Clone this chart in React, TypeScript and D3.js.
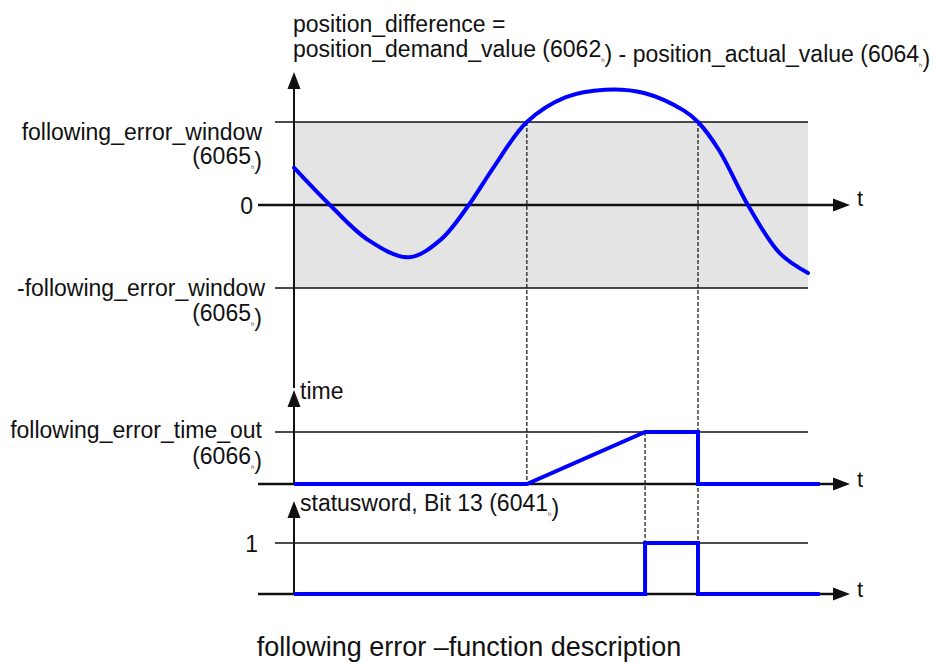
import React, { useRef, useEffect } from 'react';
import * as d3 from 'd3';

// position_difference curve, t in 0..100, value in units of following_error_window
const curveT = [0, 7, 14.4, 22.3, 28.5, 34, 38.9, 45.3, 52.9, 60.5, 68.1, 75.8, 78.6, 82.7, 88.3, 94.5, 100];
const curveV = [0.45, 0, -0.42, -0.63, -0.42, 0, 0.46, 1.0, 1.3, 1.39, 1.35, 1.14, 1.0, 0.66, 0, -0.58, -0.82];

// key instants (window exceeded, timeout reached, back inside)
const eventT = [45.3, 68.3, 78.6];

// timer ramp and status bit
const timeT = [0, 45.3, 68.3, 78.6, 78.6, 102.3];
const timeV = [0, 0, 1, 1, 0, 0];
const bitT = [0, 68.3, 68.3, 78.6, 78.6, 102.3];
const bitV = [0, 0, 1, 1, 0, 0];

const FONT = '"Liberation Sans", Arial, Helvetica, sans-serif';
const INK = '#111';
const BLUE = '#0000ff';

const App = () => {
    const svgRef = useRef<SVGSVGElement>(null);

    useEffect(() => {
        const svg = d3.select(svgRef.current);
        svg.selectAll('*').remove();

        const x = d3.scaleLinear().domain([0, 100]).range([294, 808]);
        const yTop = d3.scaleLinear().domain([-1, 1]).range([288, 122]);
        const yTime = d3.scaleLinear().domain([0, 1]).range([484, 432]);
        const yBit = d3.scaleLinear().domain([0, 1]).range([594, 543]);

        const x0 = x(0);
        const xEnd = 850; // arrow tip

        // shaded tolerance band
        svg.append('rect')
            .attr('x', x0).attr('y', yTop(1))
            .attr('width', x(100) - x0).attr('height', yTop(-1) - yTop(1))
            .attr('fill', '#e4e4e4');

        const hline = (y: number, x1: number, x2: number, w: number) =>
            svg.append('line').attr('x1', x1).attr('x2', x2).attr('y1', y).attr('y2', y)
                .attr('stroke', INK).attr('stroke-width', w);
        const vline = (xx: number, y1: number, y2: number, w: number, dash?: string) => {
            const l = svg.append('line').attr('x1', xx).attr('x2', xx).attr('y1', y1).attr('y2', y2)
                .attr('stroke', INK).attr('stroke-width', w);
            if (dash) l.attr('stroke-dasharray', dash);
            return l;
        };
        const arrowRight = (y: number) =>
            svg.append('path').attr('d', `M${xEnd},${y} L${xEnd - 17},${y - 6.5} L${xEnd - 17},${y + 6.5} Z`).attr('fill', INK);
        const arrowUp = (y: number) =>
            svg.append('path').attr('d', `M${x0},${y} L${x0 - 6.5},${y + 17} L${x0 + 6.5},${y + 17} Z`).attr('fill', INK);

        // level lines
        hline(yTop(1), 275, x(100), 1.4);
        hline(yTop(-1), 275, x(100), 1.4);
        hline(yTime(1), 275, x(100), 1.4);
        hline(yBit(1), 275, x(100), 1.4);

        // dashed event markers
        vline(x(eventT[0]), yTop(1), yTime(0), 1.2, '4,2');
        vline(x(eventT[2]), yTop(1), yBit(0), 1.2, '4,2');
        vline(x(eventT[1]), yTime(1), yBit(0), 1.2, '4,2');

        // axes
        hline(yTop(0), 258, xEnd - 10, 2.5);
        hline(yTime(0), 258, xEnd - 10, 2.5);
        hline(yBit(0), 258, xEnd - 10, 2.5);
        vline(x0, 80, 388, 2);
        vline(x0, 400, yTime(0), 2);
        vline(x0, 512, yBit(0), 2);
        arrowRight(yTop(0));
        arrowRight(yTime(0));
        arrowRight(yBit(0));
        arrowUp(72);
        arrowUp(390);
        arrowUp(501);

        // signals
        const curve = d3.line<number>()
            .x((_, i) => x(curveT[i]))
            .y(d => yTop(d))
            .curve(d3.curveCatmullRom.alpha(0.5));
        svg.append('path').attr('d', curve(curveV))
            .attr('fill', 'none').attr('stroke', BLUE).attr('stroke-width', 4).attr('stroke-linecap', 'round');

        const stepLine = (ts: number[], ys: d3.ScaleLinear<number, number>) =>
            d3.line<number>().x((_, i) => x(ts[i])).y(d => ys(d));
        svg.append('path').attr('d', stepLine(timeT, yTime)(timeV))
            .attr('fill', 'none').attr('stroke', BLUE).attr('stroke-width', 4);
        svg.append('path').attr('d', stepLine(bitT, yBit)(bitV))
            .attr('fill', 'none').attr('stroke', BLUE).attr('stroke-width', 4);

        // labels; odd parts are the tiny hex subscript
        const label = (tx: number, ty: number, parts: string[], anchor = 'start', size = 23) => {
            const t = svg.append('text').attr('x', tx).attr('y', ty)
                .attr('text-anchor', anchor).attr('font-family', FONT).attr('font-size', size).attr('fill', INK);
            parts.forEach((p, i) => {
                if (i % 2 === 0) {
                    t.append('tspan').text(p);
                } else {
                    t.append('tspan').attr('font-size', 6).attr('dy', 5).attr('fill', '#555').text(p);
                    t.append('tspan').attr('dy', -5).text('');
                }
            });
            return t;
        };

        label(293, 32, ['position_difference =']);
        label(293, 57, ['position_demand_value (6062', 'h', ') - position_actual_value (6064', 'h', ')']);
        label(262, 140, ['following_error_window'], 'end');
        label(262, 164, ['(6065', 'h', ')'], 'end');
        label(253, 214, ['0'], 'end');
        label(265, 296, ['-following_error_window'], 'end');
        label(262, 321, ['(6065', 'h', ')'], 'end');
        label(300, 399, ['time']);
        label(262, 438, ['following_error_time_out'], 'end');
        label(262, 464, ['(6066', 'h', ')'], 'end');
        label(300, 511, ['statusword, Bit 13 (6041', 'h', ')']);
        label(258, 552, ['1'], 'end');
        label(857, 206, ['t'], 'start', 22);
        label(857, 487, ['t'], 'start', 22);
        label(857, 597, ['t'], 'start', 22);
        label(469, 656, ['following error \u2013function description'], 'middle', 27);
    }, []);

    return (
        <svg ref={svgRef} width="933" height="664" style={{ position: 'absolute', left: 0, top: 0 }}></svg>
    );
};

export default App;
